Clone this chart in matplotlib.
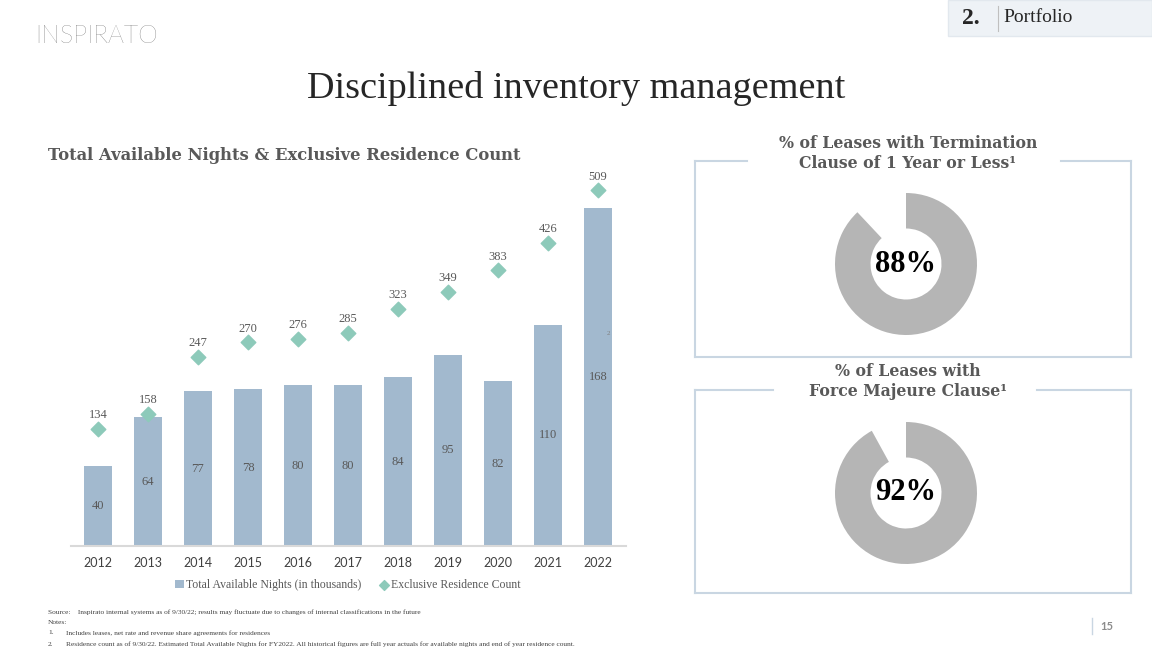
import matplotlib
matplotlib.use("Agg")
import matplotlib.pyplot as plt
from matplotlib.lines import Line2D
from matplotlib.patches import Rectangle

# ------------------------------------------------------------------
# Data
# ------------------------------------------------------------------

YEARS = ["2012", "2013", "2014", "2015", "2016", "2017",
         "2018", "2019", "2020", "2021", "2022"]
NIGHTS_K = [40, 64, 77, 78, 80, 80, 84, 95, 82, 110, 168]
RESIDENCES = [134, 158, 247, 270, 276, 285, 323, 349, 383, 426, 509]

TERMINATION_PCT = 88
FORCE_MAJEURE_PCT = 92

# ------------------------------------------------------------------
# Style
# ------------------------------------------------------------------

BAR_COLOR = "#A2B9CE"
DIAMOND_COLOR = "#8DCABA"
DONUT_COLOR = "#B5B5B5"
BOX_COLOR = "#C9D6E2"
TEXT_GRAY = "#595959"
SERIF = "Liberation Serif"
SANS = "Lato"

W, H = 1152, 648
fig = plt.figure(figsize=(W / 100, H / 100), dpi=100)
fig.patch.set_facecolor("white")


def fig_rect(x0, y0, x1, y1):
    """pixel box (top-left origin) -> figure fraction rect"""
    return [x0 / W, 1 - y1 / H, (x1 - x0) / W, (y1 - y0) / H]


# overlay in pixel coords for slide decoration
deco = fig.add_axes([0, 0, 1, 1], zorder=0)
deco.set_xlim(0, W)
deco.set_ylim(H, 0)
deco.axis("off")

# logo
deco.text(35, 36, "INSPIRATO", family=SANS, fontweight="light", fontsize=18,
          color="#4F4F4F", va="center", ha="left")

# section tab
deco.add_patch(Rectangle((948, 0), 204, 36, facecolor="#EEF2F6",
                         edgecolor="#E2E8EE", lw=1))
deco.text(962, 19, "2.", family=SERIF, fontweight="bold", fontsize=17,
          color="#262626", va="center")
deco.add_line(Line2D([998, 998], [6, 31], color="#BFBFBF", lw=0.8))
deco.text(1003, 18, "Portfolio", family=SERIF, fontsize=14,
          color="#262626", va="center")

# main title
deco.text(576, 88, "Disciplined inventory management", family=SERIF,
          fontsize=27.5, color="#262626", ha="center", va="center")

# chart title
deco.text(48, 156, "Total Available Nights & Exclusive Residence Count",
          family="DejaVu Serif", fontweight="bold", fontsize=11.8,
          color=TEXT_GRAY, ha="left", va="center")

# right-hand boxes with a gap in the top edge for the title
for top, bottom, gap0, gap1, lines in [
    (161, 357, 747, 1061,
     ["% of Leases with Termination", "Clause of 1 Year or Less\u00b9"]),
    (390, 593, 773, 1037,
     ["% of Leases with", "Force Majeure Clause\u00b9"]),
]:
    left, right = 695, 1131
    for xs, ys in [([left, left], [top, bottom]),
                   ([left, right], [bottom, bottom]),
                   ([right, right], [top, bottom]),
                   ([left, gap0], [top, top]),
                   ([gap1, right], [top, top])]:
        deco.add_line(Line2D(xs, ys, color=BOX_COLOR, lw=1.5))
    deco.text(908, top - 18, lines[0], family="DejaVu Serif",
              fontweight="bold", fontsize=11.3, color=TEXT_GRAY,
              ha="center", va="center")
    deco.text(908, top + 2, lines[1], family="DejaVu Serif",
              fontweight="bold", fontsize=11.3, color=TEXT_GRAY,
              ha="center", va="center")

# footer notes
notes = [
    (48, 612, "Source:    Inspirato internal systems as of 9/30/22; results may "
              "fluctuate due to changes of internal classifications in the future"),
    (48, 622, "Notes:"),
    (48, 633, "1."),
    (66, 633, "Includes leases, net rate and revenue share agreements for residences"),
    (48, 644, "2."),
    (66, 644, "Residence count as of 9/30/22. Estimated Total Available Nights for "
              "FY2022. All historical figures are full year actuals for available "
              "nights and end of year residence count."),
]
for x, y, s in notes:
    deco.text(x, y, s, family=SERIF, fontsize=5.3, color="#404040",
              ha="left", va="center")

# page number
deco.add_line(Line2D([1092, 1092], [618, 634], color=BOX_COLOR, lw=1))
deco.text(1100, 626, "15", family=SANS, fontweight="bold", fontsize=8,
          color="#8C8C8C", ha="left", va="center")

# ------------------------------------------------------------------
# Bar + diamond chart
# ------------------------------------------------------------------

ax = fig.add_axes(fig_rect(70.5, 170, 625.5, 546), zorder=2)
ax.patch.set_alpha(0)
x = list(range(len(YEARS)))
bars = ax.bar(x, NIGHTS_K, width=0.56, color=BAR_COLOR,
              label="Total Available Nights (in thousands)")
ax.set_xlim(-0.55, len(YEARS) - 0.45)
ax.set_ylim(0, 187)
ax.set_yticks([])
ax.set_xticks(x)
ax.set_xticklabels(YEARS, family=SANS, fontsize=9, color="#404040")
ax.tick_params(axis="x", length=0, pad=8)
for side in ["top", "left", "right"]:
    ax.spines[side].set_visible(False)
ax.spines["bottom"].set_color("#D9D9D9")
ax.spines["bottom"].set_linewidth(1.5)

for xi, v in zip(x, NIGHTS_K):
    ax.text(xi, v / 2, f"{v}", family=SERIF, fontsize=9, color=TEXT_GRAY,
            ha="center", va="center")
# footnote marker on 2022 bar
ax.text(x[-1] + 0.2, NIGHTS_K[-1] * 0.63, "2", family=SERIF, fontsize=5,
        color="#7F7F7F", ha="center", va="center")

ax2 = ax.twinx()
ax2.patch.set_alpha(0)
diam = ax2.scatter(x, RESIDENCES, marker="D", s=55, color=DIAMOND_COLOR,
                   zorder=3, label="Exclusive Residence Count")
ax2.set_ylim(-49.6, 540.7)
ax2.set_yticks([])
for side in ["top", "left", "right", "bottom"]:
    ax2.spines[side].set_visible(False)
for xi, v in zip(x, RESIDENCES):
    ax2.annotate(f"{v}", (xi, v), xytext=(0, 5.5), textcoords="offset points",
                 family=SERIF, fontsize=9, color=TEXT_GRAY,
                 ha="center", va="bottom")

leg = ax.legend(handles=[bars, diam], loc="upper center",
                bbox_to_anchor=(0.5, -0.06), ncol=2, frameon=False,
                handlelength=0.7, handletextpad=0.2, columnspacing=1.6,
                prop={"family": SERIF, "size": 8.5})
for t in leg.get_texts():
    t.set_color(TEXT_GRAY)
leg.legend_handles[0].set_height(6)
leg.legend_handles[0].set_width(6)
leg.legend_handles[1].set_sizes([25])

# ------------------------------------------------------------------
# Donuts
# ------------------------------------------------------------------

for cy, pct in [(264, TERMINATION_PCT), (493, FORCE_MAJEURE_PCT)]:
    dax = fig.add_axes(fig_rect(906 - 71, cy - 71, 906 + 71, cy + 71), zorder=2)
    dax.pie([pct, 100 - pct], startangle=90, counterclock=False,
            colors=[DONUT_COLOR, "none"], radius=1,
            wedgeprops={"width": 0.5, "linewidth": 0})
    dax.set_xlim(-1, 1)
    dax.set_ylim(-1, 1)
    dax.set_aspect("equal")
    dax.axis("off")
    dax.text(0, 0, f"{pct}%", family=SERIF, fontweight="bold", fontsize=22,
             color="black", ha="center", va="center")

fig.savefig("out.png", dpi=100)
